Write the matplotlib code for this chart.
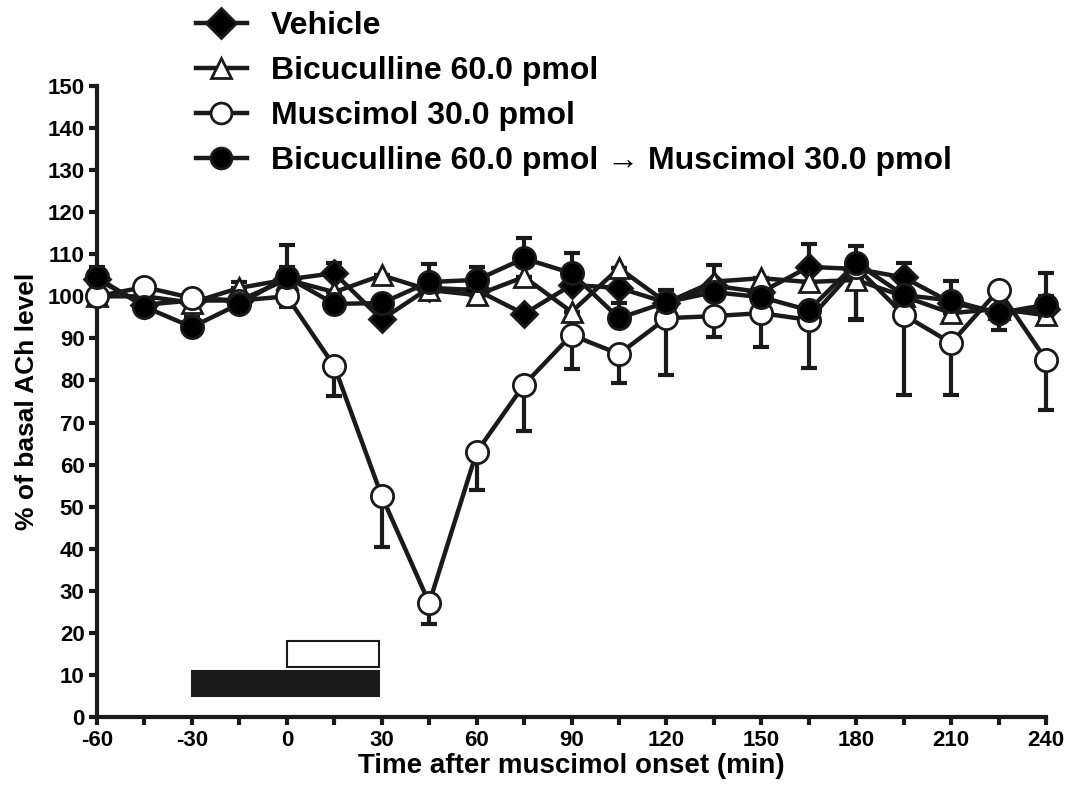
import numpy as np
import matplotlib
matplotlib.use('Agg')
import matplotlib.pyplot as plt
from matplotlib.patches import Rectangle

plt.rcParams['font.family'] = ['Liberation Sans', 'DejaVu Sans']
plt.rcParams['font.weight'] = 'bold'
plt.rcParams['axes.unicode_minus'] = False

# sampling times (min)
t = [-60, -45, -30, -15, 0, 15, 30, 45, 60, 75, 90, 105, 120, 135, 150, 165, 180, 195, 210, 225, 240]

# % of basal ACh
vehicle = [104, 98, 99, 99, 104, 105.5, 94.5, 102, 101.5, 95.8, 102.7, 102, 98.5, 102.5, 101, 107, 106.5, 104.5, 98.5, 96, 97]
vehicle_lo = [0, 0, 0, 0, 0, 0, 0, 0, 0, 0, 0, 0, 0, 0, 0, 0, 0, 0, 0, 0, 0]
vehicle_hi = [3, 0, 0, 0, 3, 2.5, 0, 0, 0, 0, 0, 0, 0, 0, 0, 5.5, 0, 3.5, 0, 0, 3]

bicu = [100, 100, 98.5, 102, 104, 101, 105, 101.5, 100.3, 104.6, 96.3, 106.7, 98.5, 103.5, 104.3, 103.4, 103.9, 100, 96, 97, 95.5]
bicu_lo = [0, 0, 0, 0, 0, 0, 0, 1.5, 0, 0, 0, 0, 0, 0, 0, 1.5, 9.5, 0, 0, 0, 1]
bicu_hi = [0, 0, 0, 1.5, 0, 0, 0, 0, 0, 0, 0, 0, 0, 4, 0, 0, 0, 0, 0, 0, 0]

musc = [100, 102.2, 99.6, 99, 100, 83.4, 52.5, 27.1, 63, 79, 90.8, 86.3, 94.8, 95.3, 96, 94.4, 107, 95.6, 88.9, 101.5, 84.9]
musc_lo = [2, 0, 0, 0, 2.5, 7, 12, 5, 9, 11, 8, 7, 13.5, 5, 8, 11.5, 12.5, 19, 12.3, 0, 12]
musc_hi = [0] * 21

bm = [104.5, 97.5, 92.7, 98.2, 104.6, 98.2, 98.4, 103.4, 103.9, 109, 105.5, 94.8, 98.6, 101, 99.8, 96.7, 107.9, 100.3, 99, 96, 98]
bm_lo = [0, 0, 0, 0, 0, 0, 0, 0, 0, 0, 0, 0, 0, 0, 0, 0, 0, 0, 0, 4, 0]
bm_hi = [0, 0, 2.5, 0, 7.5, 0, 0, 4.3, 3, 4.8, 4.8, 3.6, 2.9, 2, 0, 0, 4, 0, 4.6, 0, 7.5]

labels = ['Vehicle', 'Bicuculline 60.0 pmol', 'Muscimol 30.0 pmol',
          'Bicuculline 60.0 pmol \u2192 Muscimol 30.0 pmol']

fig = plt.figure(figsize=(10.7, 7.93), dpi=100)
ax = fig.add_axes([0.0907, 0.0958, 0.8869, 0.7958])

series = [
    (vehicle, vehicle_lo, vehicle_hi, 'D', 'black', 13),
    (bicu, bicu_lo, bicu_hi, '^', 'white', 15),
    (musc, musc_lo, musc_hi, 'o', 'white', 16),
    (bm, bm_lo, bm_hi, 'o', 'black', 16),
]
handles = []
for (y, lo, hi, mk, fc, ms), lab in zip(series, labels):
    eb = ax.errorbar(t, y, yerr=[lo, hi], fmt='none', ecolor='#1a1a1a',
                     elinewidth=3, capsize=6, capthick=3, zorder=2)
    for art in eb.lines[1] + eb.lines[2]:
        art.set_clip_on(False)
    h, = ax.plot(t, y, color='#1a1a1a', lw=3.2, marker=mk, ms=ms,
                 mfc=fc, mec='#1a1a1a', mew=2, label=lab, zorder=3, clip_on=False)
    handles.append(h)

# drug infusion bars
ax.add_patch(Rectangle((-30, 5), 59, 6, facecolor='#1a1a1a', edgecolor='#1a1a1a', lw=1.5))
ax.add_patch(Rectangle((0, 12), 29, 6, facecolor='white', edgecolor='#1a1a1a', lw=1.5))

ax.set_xlim(-60, 240)
ax.set_ylim(0, 150)
ax.set_xticks(np.arange(-60, 241, 30))
ax.set_xticks(np.arange(-60, 241, 15), minor=True)
ax.set_yticks(np.arange(0, 151, 10))
for s in ['top', 'right']:
    ax.spines[s].set_visible(False)
for s in ['left', 'bottom']:
    ax.spines[s].set_linewidth(3)
    ax.spines[s].set_color('#1a1a1a')
ax.tick_params(axis='both', which='major', direction='out', width=3, length=6,
               labelsize=16, color='#1a1a1a', pad=3)
ax.tick_params(axis='x', which='minor', direction='out', width=3, length=6, color='#1a1a1a')
for lbl in ax.get_xticklabels() + ax.get_yticklabels():
    lbl.set_fontweight('bold')

ax.set_xlabel('Time after muscimol onset (min)', fontsize=20, fontweight='bold', labelpad=2)
ax.set_ylabel('% of basal ACh level', fontsize=19, fontweight='bold', labelpad=6)

leg = fig.legend(handles=handles, labels=labels, loc='upper left',
                 bbox_to_anchor=(0.156, 1.022), frameon=False,
                 handlelength=1.6, handletextpad=0.75, labelspacing=0.47,
                 prop={'weight': 'bold', 'size': 23})
for h in leg.legend_handles:
    h.set_markersize(15)

fig.savefig('out.png', dpi=100)
